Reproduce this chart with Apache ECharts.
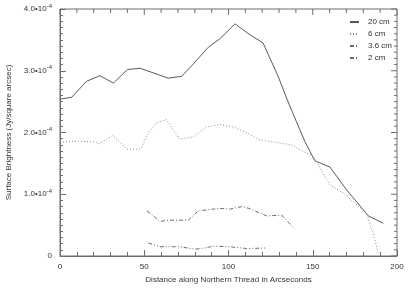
<!DOCTYPE html>
<html><head><meta charset="utf-8">
<script src="https://cdn.jsdelivr.net/npm/echarts@6/dist/echarts.min.js"></script>
<style>html,body{margin:0;padding:0;background:#fff}#c{width:409px;height:291px}</style>
</head><body><div id="c"></div>
<script>
var seriesNames = ['20 cm', '6 cm', '3.6 cm', '2 cm'];
var x20 = [0, 6.9, 15.8, 23.7, 31.7, 40, 47.5, 64.3, 72.2, 79.1, 88, 95, 103.9, 112.3, 120.5, 129.6, 134.7, 142.4, 145.4, 151.3, 160.2, 170.1, 183, 191.9];
var y20 = [2.54, 2.57, 2.83, 2.92, 2.80, 3.02, 3.04, 2.88, 2.91, 3.11, 3.38, 3.52, 3.76, 3.59, 3.45, 2.90, 2.54, 2.04, 1.85, 1.54, 1.44, 1.07, 0.65, 0.53];
var x6 = [0, 9.9, 19.8, 23.3, 31.3, 36, 39.6, 47.9, 52.4, 57, 63.3, 67, 71.2, 79.1, 87, 95, 102.9, 110, 118.7, 130.6, 137.5, 142.4, 148.4, 151.3, 160.2, 168.1, 182, 186.9, 189];
var y6 = [1.84, 1.86, 1.85, 1.82, 1.95, 1.83, 1.73, 1.73, 1.99, 2.15, 2.21, 2.05, 1.89, 1.93, 2.09, 2.13, 2.09, 2.01, 1.88, 1.83, 1.80, 1.72, 1.64, 1.57, 1.15, 1.02, 0.69, 0.26, 0.02];
var x36 = [51.6, 55.4, 59, 65.3, 76.1, 82, 91, 95, 100.9, 107.8, 112.3, 114.7, 122.6, 131.6, 138.9];
var y36 = [0.73, 0.65, 0.56, 0.58, 0.58, 0.73, 0.76, 0.77, 0.76, 0.80, 0.77, 0.74, 0.65, 0.66, 0.45];
var x2 = [52.4, 59.3, 71.2, 80.1, 86, 91, 100.9, 110.8, 122.6];
var y2 = [0.21, 0.15, 0.15, 0.11, 0.13, 0.16, 0.15, 0.12, 0.13];
var yScale = 1e-4;
// tick values for the mirrored top / right axes
var xTickVals = [0, 10, 20, 30, 40, 50, 60, 70, 80, 90, 100, 110, 120, 130, 140, 150, 160, 170, 180, 190, 200];
var yTickVals = [0, 0.1, 0.2, 0.3, 0.4, 0.5, 0.6, 0.7, 0.8, 0.9, 1.0, 1.1, 1.2, 1.3, 1.4, 1.5, 1.6, 1.7, 1.8, 1.9, 2.0,
                 2.1, 2.2, 2.3, 2.4, 2.5, 2.6, 2.7, 2.8, 2.9, 3.0, 3.1, 3.2, 3.3, 3.4, 3.5, 3.6, 3.7, 3.8, 3.9, 4.0];

function zip(xs, ys) { return xs.map(function (x, i) { return [x, ys[i] * yScale]; }); }

var FONT = 'Liberation Sans';
var axisCol = '#6e6e6e';
var textCol = '#333';
var X_MAX = 200, Y_MAX = 4e-4;

var xAxis = {
  type: 'value', min: 0, max: X_MAX, interval: 50,
  axisLine: { show: true, onZero: false, lineStyle: { color: axisCol, width: 1 } },
  axisTick: { show: true, inside: true, length: 6, lineStyle: { color: axisCol } },
  minorTick: { show: true, splitNumber: 5, length: 4, lineStyle: { color: axisCol } },
  splitLine: { show: false }, minorSplitLine: { show: false },
  axisLabel: { color: textCol, fontFamily: FONT, fontSize: 8, margin: 7 },
  name: 'Distance along Northern Thread in Arcseconds',
  nameLocation: 'middle', nameGap: 16,
  nameTextStyle: { color: textCol, fontFamily: FONT, fontSize: 8 }
};
var yAxis = {
  type: 'value', min: 0, max: Y_MAX, interval: 1e-4,
  axisLine: { show: true, onZero: false, lineStyle: { color: axisCol, width: 1 } },
  axisTick: { show: true, inside: true, length: 6, lineStyle: { color: axisCol } },
  minorTick: { show: true, splitNumber: 10, length: 3, lineStyle: { color: axisCol } },
  splitLine: { show: false }, minorSplitLine: { show: false },
  axisLabel: {
    margin: 8, color: textCol, fontFamily: FONT, fontSize: 8,
    formatter: function (v) {
      if (v === 0) return '0';
      return '{m|' + (v / yScale).toFixed(1) + '\u202210}{s|-4}';
    },
    rich: {
      m: { fontFamily: FONT, fontSize: 8, color: textCol },
      s: { fontFamily: FONT, fontSize: 6, color: textCol, padding: [0, 0, 6, 0] }
    }
  },
  name: 'Surface Brightness (Jy/square arcsec)',
  nameLocation: 'middle', nameGap: 39, nameRotate: 90,
  nameTextStyle: { color: textCol, fontFamily: FONT, fontSize: 8 }
};

var styles = [
  { color: '#5a5a5a', type: 'solid' },
  { color: '#8a8a8a', type: [1, 2] },
  { color: '#6a6a6a', type: [4, 2, 1, 2] },
  { color: '#6a6a6a', type: [4, 2, 1, 2, 1, 2] }
];
var datas = [zip(x20, y20), zip(x6, y6), zip(x36, y36), zip(x2, y2)];

var series = seriesNames.map(function (n, i) {
  return {
    name: n, type: 'line',
    data: datas[i], showSymbol: false, symbol: 'none',
    lineStyle: { color: styles[i].color, width: 1, type: styles[i].type },
    itemStyle: { color: styles[i].color },
    silent: true
  };
});

// mirrored ticks on the top edge, placed through the x scale
series.push({
  type: 'custom', silent: true, clip: false, z: 5,
  data: xTickVals.map(function (v) { return [v, Y_MAX]; }),
  renderItem: function (params, api) {
    var v = api.value(0);
    var p = api.coord([v, Y_MAX]);
    var len = (v % 50 === 0) ? 6 : 4;
    return { type: 'line', shape: { x1: p[0], y1: p[1], x2: p[0], y2: p[1] + len },
             style: { stroke: axisCol, lineWidth: 1 } };
  }
});
// mirrored ticks on the right edge, placed through the y scale
series.push({
  type: 'custom', silent: true, clip: false, z: 5,
  data: yTickVals.map(function (v) { return [X_MAX, v * yScale]; }),
  renderItem: function (params, api) {
    var v = api.value(1);
    var p = api.coord([X_MAX, v]);
    var k = Math.round(v / yScale * 10);
    var len = (k % 10 === 0) ? 6 : 3;
    return { type: 'line', shape: { x1: p[0], y1: p[1], x2: p[0] - len, y2: p[1] },
             style: { stroke: axisCol, lineWidth: 1 } };
  }
});

var chart = echarts.init(document.getElementById('c'), null, { renderer: 'canvas' });
chart.setOption({
  animation: false,
  backgroundColor: '#fff',
  grid: {
    left: 60, right: 12, top: 9, bottom: 35, containLabel: false, outerBoundsMode: 'none',
    show: true, borderColor: axisCol, borderWidth: 1, backgroundColor: 'transparent'
  },
  xAxis: xAxis,
  yAxis: yAxis,
  legend: {
    orient: 'vertical', left: 344, top: 13, itemGap: 4,
    itemWidth: 9, itemHeight: 8,
    itemStyle: { opacity: 0 },
    textStyle: { color: textCol, fontFamily: FONT, fontSize: 8, padding: [0, 0, 0, 4] },
    data: seriesNames
  },
  series: series
});
</script>
</body></html>
